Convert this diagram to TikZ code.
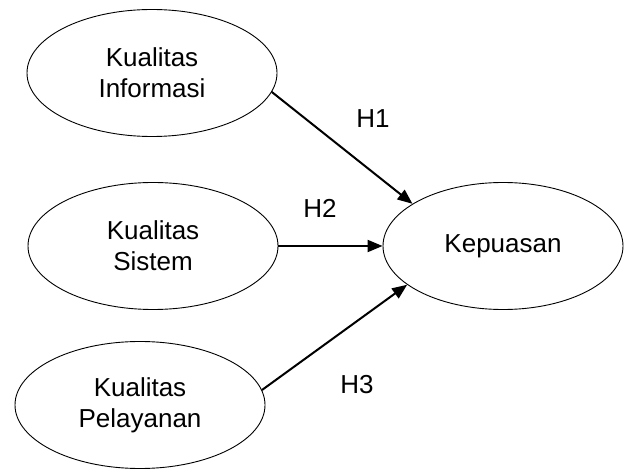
\documentclass[tikz,border=0pt]{standalone}
\usepackage{fontspec}
\setmainfont{Liberation Sans}
\usetikzlibrary{shapes.geometric,arrows.meta}

\begin{document}
\begin{tikzpicture}[ x=1pt, y=-1pt, >={Triangle[length=15pt,width=12pt]},
    construct/.style={ draw, ellipse, line width=0.9pt, minimum width=250pt,
    minimum height=127pt, inner sep=0pt, align=center,
    font=\fontsize{26}{31}\selectfont }, hyp/.style={ ->, line width=2pt },
    hlabel/.style={ font=\fontsize{26}{31}\selectfont } ]
  \useasboundingbox (0,0) rectangle (624,470);
  \foreach \n/\x/\y/\lbl in {1/152/73/Informasi,2/153/246/Sistem,3/140/405/Pelayanan}
  \node[construct] (k\n) at (\x,\y) {Kualitas\\\lbl};
  \node[construct,minimum width=240pt] (kp) at (503,246) {Kepuasan};

  \draw[hyp] (k1.-9) -- (kp.155);
  \draw[hyp] (k2.east) -- (kp.west);
  \draw[hyp] (k3.7) -- (kp.202);

  \node[hlabel] (h1) at (373,119) {H1};
  \node[hlabel] (h2) at (320,208) {H2};
  \node[hlabel] (h3) at (357,385) {H3};

\end{tikzpicture}
\end{document}
